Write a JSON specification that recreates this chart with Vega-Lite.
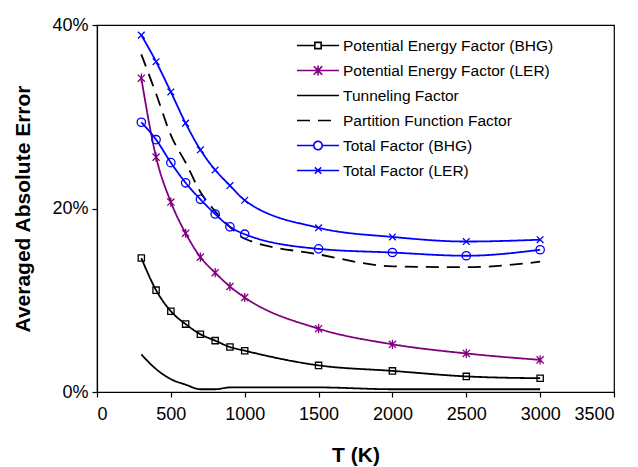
{
  "$schema": "https://vega.github.io/schema/vega-lite/v6.json",
  "width": 517,
  "height": 367,
  "autosize": "none",
  "padding": {"left": 97, "top": 25, "right": 24, "bottom": 75},
  "background": "white",
  "config": {
    "font": "Liberation Sans",
    "view": {"stroke": "black", "strokeWidth": 1.2},
    "axis": {"grid": false, "domainColor": "black", "tickColor": "black", "labelColor": "black", "titleColor": "black", "labelFont": "Liberation Sans", "titleFont": "Liberation Sans", "labelFontSize": 18, "titleFontSize": 21, "titleFontWeight": "bold", "tickSize": 5, "domainWidth": 1.2, "tickWidth": 1.2}
  },
  "data": {"values": [
    {"series": "Potential Energy Factor (BHG)", "T": 300, "v": 14.6},
    {"series": "Potential Energy Factor (BHG)", "T": 400, "v": 11.1},
    {"series": "Potential Energy Factor (BHG)", "T": 500, "v": 8.8},
    {"series": "Potential Energy Factor (BHG)", "T": 600, "v": 7.4},
    {"series": "Potential Energy Factor (BHG)", "T": 700, "v": 6.3},
    {"series": "Potential Energy Factor (BHG)", "T": 800, "v": 5.6},
    {"series": "Potential Energy Factor (BHG)", "T": 900, "v": 4.9},
    {"series": "Potential Energy Factor (BHG)", "T": 1000, "v": 4.5},
    {"series": "Potential Energy Factor (BHG)", "T": 1500, "v": 2.9},
    {"series": "Potential Energy Factor (BHG)", "T": 2000, "v": 2.3},
    {"series": "Potential Energy Factor (BHG)", "T": 2500, "v": 1.7},
    {"series": "Potential Energy Factor (BHG)", "T": 3000, "v": 1.5},
    {"series": "Potential Energy Factor (LER)", "T": 300, "v": 34.2},
    {"series": "Potential Energy Factor (LER)", "T": 400, "v": 25.6},
    {"series": "Potential Energy Factor (LER)", "T": 500, "v": 20.7},
    {"series": "Potential Energy Factor (LER)", "T": 600, "v": 17.3},
    {"series": "Potential Energy Factor (LER)", "T": 700, "v": 14.7},
    {"series": "Potential Energy Factor (LER)", "T": 800, "v": 13.0},
    {"series": "Potential Energy Factor (LER)", "T": 900, "v": 11.5},
    {"series": "Potential Energy Factor (LER)", "T": 1000, "v": 10.3},
    {"series": "Potential Energy Factor (LER)", "T": 1500, "v": 6.9},
    {"series": "Potential Energy Factor (LER)", "T": 2000, "v": 5.2},
    {"series": "Potential Energy Factor (LER)", "T": 2500, "v": 4.2},
    {"series": "Potential Energy Factor (LER)", "T": 3000, "v": 3.5},
    {"series": "Tunneling Factor", "T": 300, "v": 4.1},
    {"series": "Tunneling Factor", "T": 400, "v": 2.5},
    {"series": "Tunneling Factor", "T": 500, "v": 1.4},
    {"series": "Tunneling Factor", "T": 600, "v": 0.8},
    {"series": "Tunneling Factor", "T": 700, "v": 0.3},
    {"series": "Tunneling Factor", "T": 800, "v": 0.3},
    {"series": "Tunneling Factor", "T": 900, "v": 0.5},
    {"series": "Tunneling Factor", "T": 1000, "v": 0.5},
    {"series": "Tunneling Factor", "T": 1500, "v": 0.5},
    {"series": "Tunneling Factor", "T": 2000, "v": 0.3},
    {"series": "Tunneling Factor", "T": 2500, "v": 0.3},
    {"series": "Tunneling Factor", "T": 3000, "v": 0.3},
    {"series": "Partition Function Factor", "T": 300, "v": 36.8},
    {"series": "Partition Function Factor", "T": 400, "v": 32.5},
    {"series": "Partition Function Factor", "T": 500, "v": 28.0},
    {"series": "Partition Function Factor", "T": 600, "v": 25.0},
    {"series": "Partition Function Factor", "T": 700, "v": 21.8},
    {"series": "Partition Function Factor", "T": 800, "v": 19.7},
    {"series": "Partition Function Factor", "T": 900, "v": 18.0},
    {"series": "Partition Function Factor", "T": 1000, "v": 16.7},
    {"series": "Partition Function Factor", "T": 1500, "v": 15.0},
    {"series": "Partition Function Factor", "T": 2000, "v": 13.7},
    {"series": "Partition Function Factor", "T": 2500, "v": 13.6},
    {"series": "Partition Function Factor", "T": 3000, "v": 14.2},
    {"series": "Total Factor (BHG)", "T": 300, "v": 29.4},
    {"series": "Total Factor (BHG)", "T": 400, "v": 27.5},
    {"series": "Total Factor (BHG)", "T": 500, "v": 25.0},
    {"series": "Total Factor (BHG)", "T": 600, "v": 22.8},
    {"series": "Total Factor (BHG)", "T": 700, "v": 21.0},
    {"series": "Total Factor (BHG)", "T": 800, "v": 19.4},
    {"series": "Total Factor (BHG)", "T": 900, "v": 18.0},
    {"series": "Total Factor (BHG)", "T": 1000, "v": 17.2},
    {"series": "Total Factor (BHG)", "T": 1500, "v": 15.6},
    {"series": "Total Factor (BHG)", "T": 2000, "v": 15.2},
    {"series": "Total Factor (BHG)", "T": 2500, "v": 14.85},
    {"series": "Total Factor (BHG)", "T": 3000, "v": 15.5},
    {"series": "Total Factor (LER)", "T": 300, "v": 38.9},
    {"series": "Total Factor (LER)", "T": 400, "v": 36.0},
    {"series": "Total Factor (LER)", "T": 500, "v": 32.7},
    {"series": "Total Factor (LER)", "T": 600, "v": 29.3},
    {"series": "Total Factor (LER)", "T": 700, "v": 26.4},
    {"series": "Total Factor (LER)", "T": 800, "v": 24.2},
    {"series": "Total Factor (LER)", "T": 900, "v": 22.5},
    {"series": "Total Factor (LER)", "T": 1000, "v": 20.9},
    {"series": "Total Factor (LER)", "T": 1500, "v": 17.9},
    {"series": "Total Factor (LER)", "T": 2000, "v": 16.9},
    {"series": "Total Factor (LER)", "T": 2500, "v": 16.4},
    {"series": "Total Factor (LER)", "T": 3000, "v": 16.6}
  ]},
  "encoding": {
    "x": {"field": "T", "type": "quantitative", "scale": {"domain": [0, 3500], "nice": false}, "axis": {"values": [0, 500, 1000, 1500, 2000, 2500, 3000, 3500], "format": "d", "title": "T (K)", "titlePadding": 21, "labelPadding": 8}},
    "y": {"field": "v", "type": "quantitative", "scale": {"domain": [0, 40], "nice": false}, "axis": {"values": [0, 20, 40], "labelExpr": "datum.value + '%'", "title": "Averaged Absolute Error", "titlePadding": 18, "labelPadding": 4}},
    "color": {"field": "series", "type": "nominal", "scale": {
      "domain": ["Potential Energy Factor (BHG)", "Potential Energy Factor (LER)", "Tunneling Factor", "Partition Function Factor", "Total Factor (BHG)", "Total Factor (LER)"],
      "range": ["#000000", "#800080", "#000000", "#000000", "#0000ff", "#0000ff"]}}
  },
  "layer": [
    {
      "mark": {"type": "line", "interpolate": "monotone", "strokeWidth": 1.8},
      "encoding": {
        "strokeDash": {"field": "series", "type": "nominal", "scale": {
          "domain": ["Potential Energy Factor (BHG)", "Potential Energy Factor (LER)", "Tunneling Factor", "Partition Function Factor", "Total Factor (BHG)", "Total Factor (LER)"],
          "range": [[1, 0], [1, 0], [1, 0], [13, 8], [1, 0], [1, 0]]}},
        "color": {"field": "series", "type": "nominal", "legend": {
          "title": null, "orient": "none", "legendX": 199, "legendY": 8,
          "labelFont": "Liberation Sans", "labelFontSize": 15.5, "labelColor": "black", "labelLimit": 0,
          "symbolSize": 1764, "symbolStrokeWidth": 1.6, "clipHeight": 25, "rowPadding": 0, "labelOffset": 3,
          "symbolFillColor": "transparent",
          "encode": {"symbols": {"update": {
            "fill": {"value": "transparent"},
            "shape": {"signal": "datum.value === 'Potential Energy Factor (BHG)' ? 'M-1,0H-0.15M0.15,0H1M-0.15,-0.15H0.15V0.15H-0.15Z' : datum.value === 'Potential Energy Factor (LER)' ? 'M-1,0H1M-0.2,-0.2L0.2,0.2M-0.2,0.2L0.2,-0.2M0,-0.24V0.24' : datum.value === 'Total Factor (BHG)' ? 'M-1,0H-0.2M0.2,0H1M0.2,0A0.2,0.2 0 1,1 -0.2,0A0.2,0.2 0 1,1 0.2,0Z' : datum.value === 'Total Factor (LER)' ? 'M-1,0H1M-0.15,-0.15L0.15,0.15M-0.15,0.15L0.15,-0.15' : 'M-1,0H1'"}
          }}}
        }}
      }
    },
    {
      "transform": [{"filter": "datum.series !== 'Tunneling Factor' && datum.series !== 'Partition Function Factor'"}],
      "mark": {"type": "point", "filled": false, "strokeWidth": 1.3, "opacity": 1, "size": 70},
      "encoding": {
        "shape": {"field": "series", "type": "nominal", "legend": null, "scale": {
          "domain": ["Potential Energy Factor (BHG)", "Potential Energy Factor (LER)", "Total Factor (BHG)", "Total Factor (LER)"],
          "range": ["M-0.75,-0.75H0.75V0.75H-0.75Z", "M-0.85,-0.85L0.85,0.85M-0.85,0.85L0.85,-0.85M0,-1.1V1.1", "circle", "M-0.8,-0.8L0.8,0.8M-0.8,0.8L0.8,-0.8"]}},
        "color": {"field": "series", "type": "nominal", "legend": null}
      }
    }
  ]
}
